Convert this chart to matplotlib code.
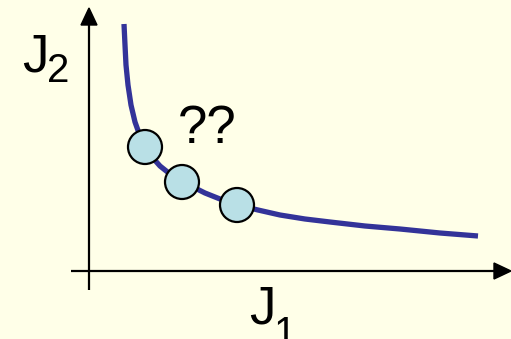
import numpy as np
import matplotlib.pyplot as plt
from matplotlib.patches import Polygon, Circle

# trade-off curve, traced in pixel units (x right, y down)
curve_x = [124, 125, 126, 128, 131, 135, 140, 145, 152, 160, 170, 181, 193, 205, 220, 237, 258, 280, 305, 330, 365, 400, 440, 478]
curve_y = [24, 45, 65, 85, 105, 122, 136, 147, 157, 166, 174, 181, 187, 193, 199, 205, 210, 215, 219, 222, 226, 229, 233, 236]

# candidate points on the curve
pt_x = [145, 182, 237]
pt_y = [147, 182, 205]

bg = '#FFFFE8'
fig = plt.figure(figsize=(5.11, 3.39), dpi=100, facecolor=bg)
ax = fig.add_axes([0, 0, 1, 1])
ax.set_facecolor(bg)
ax.set_xlim(0, 511)
ax.set_ylim(339, 0)
ax.axis('off')

# axes with arrow heads
ax.plot([89, 89], [290, 22], color='black', lw=1.6, solid_capstyle='butt')
ax.plot([71, 497], [271, 271], color='black', lw=1.6, solid_capstyle='butt')
ax.add_patch(Polygon([[89, 8], [81, 25], [97, 25]], closed=True, color='black'))
ax.add_patch(Polygon([[511, 271], [494, 263], [494, 279]], closed=True, color='black'))

# curve
ax.plot(curve_x, curve_y, color='#333399', lw=3.8, solid_capstyle='butt', zorder=2)

for x, y in zip(pt_x, pt_y):
    ax.add_patch(Circle((x, y), 17, facecolor='#B9E0E6', edgecolor='black', lw=1.6, zorder=3))

font = 'Liberation Sans'
ax.text(207, 129, '??', fontsize=38, family=font, ha='center', va='center')

# axis labels
ax.text(22, 71, 'J', fontsize=38, family=font, ha='left', va='baseline')
ax.text(47, 82, '2', fontsize=29, family=font, ha='left', va='baseline')
ax.text(249, 324, 'J', fontsize=38, family=font, ha='left', va='baseline')
ax.text(274, 345, '1', fontsize=29, family=font, ha='left', va='baseline')

plt.savefig('out.png', dpi=100, facecolor=bg)
